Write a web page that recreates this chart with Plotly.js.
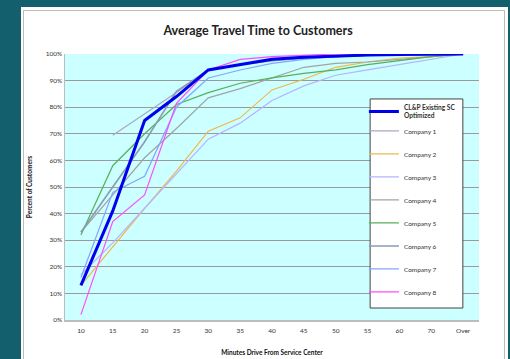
<!DOCTYPE html>
<html>
<head>
<meta charset="utf-8">
<script src="https://cdn.plot.ly/plotly-3.0.1.min.js"></script>
<style>
  html, body { margin: 0; padding: 0; width: 510px; height: 359px; overflow: hidden; background: #145f6d; }
  #frame { position: absolute; left: 21px; top: 7px; width: 487px; height: 360px; background: #ffffff; }
  #inner { position: absolute; left: 23px; top: 10px; width: 482px; height: 360px; border: 1px solid #bdbdbd; box-sizing: border-box; }
  #chart { position: absolute; left: 0; top: 0; width: 510px; height: 359px; }
</style>
</head>
<body>
<div id="frame"></div>
<div id="inner"></div>
<div id="chart"></div>
<script>
const categories = ['10','15','20','25','30','35','40','45','50','55','60','70','Over'];
const yTicks = [0,10,20,30,40,50,60,70,80,90,100];
const yTickLabels = ['0%','10%','20%','30%','40%','50%','60%','70%','80%','90%','100%'];

const clp      = [13, 41, 75, 84, 94, 96, 98, 98.8, 99.3, 99.6, 99.8, 100, 100];
const company1 = [null, 69.5, 77.5, 85.5, 94, 96, 97.5, 98.5, 99, 99.5, 100, 100, 100];
const company2 = [13, 27.5, 42, 56, 71, 76, 86.5, 90.5, 95, 97, 98.5, 99, 100];
const company3 = [17, 29, 42, 55, 68, 74, 82.5, 88, 92, 94, 96, 98, 100];
const company4 = [33, 47, 61, 72, 83.5, 87, 91, 95, 96.5, 97, 98, 99, 100];
const company5 = [32, 58, 70, 81, 85.5, 89, 91, 92.7, 94, 96, 97.5, 99, 100];
const company6 = [33, 50, 67, 86, 94, 96, 97.5, 98.5, 99, 99.5, 100, 100, 100];
const company7 = [16, 48, 54, 80, 91, 94, 96.5, 98, 99, 99.5, 100, 100, 100];
const company8 = [2, 37, 47, 81.5, 94, 98, 99, 99.5, 100, 100, 100, 100, 100];

const series = [
  {name: 'Company 1', y: company1, color: '#a8a8c6', width: 1.2},
  {name: 'Company 2', y: company2, color: '#f4b64a', width: 1.2},
  {name: 'Company 3', y: company3, color: '#b4b4ff', width: 1.2},
  {name: 'Company 4', y: company4, color: '#a3a3a3', width: 1.2},
  {name: 'Company 5', y: company5, color: '#56b156', width: 1.2},
  {name: 'Company 6', y: company6, color: '#8a9bb3', width: 1.6},
  {name: 'Company 7', y: company7, color: '#86a2ff', width: 1.2},
  {name: 'Company 8', y: company8, color: '#ff4cff', width: 1.2}
];

const traces = series.map((s, i) => ({
  type: 'scatter', mode: 'lines', x: categories, y: s.y, name: s.name,
  line: {color: s.color, width: s.width}, legendgroup: 'g' + (i + 1), legendrank: i + 2,
  connectgaps: false, hoverinfo: 'skip'
}));
traces.push({
  type: 'scatter', mode: 'lines', x: categories, y: clp,
  name: '<b><span style="font-size:6.6px">CL&amp;P Existing SC<br>Optimized</span></b>',
  line: {color: '#0000ee', width: 3}, legendgroup: 'g1', legendrank: 1, hoverinfo: 'skip'
});

const font = 'Lato, "Open Sans", sans-serif';
const layout = {
  width: 510, height: 359,
  margin: {l: 65, r: 31, t: 54, b: 39},
  paper_bgcolor: 'rgba(0,0,0,0)',
  plot_bgcolor: '#ccffff',
  font: {family: font, size: 6.5, color: '#333333'},
  title: {text: '<b>Average Travel Time to Customers</b>', font: {family: font, size: 12.5, color: '#222222'},
          x: 0.506, xref: 'container', y: 0.914, yref: 'container', xanchor: 'center', yanchor: 'middle'},
  xaxis: {
    type: 'category', range: [-0.5, categories.length - 0.5], showgrid: false,
    showline: true, linecolor: '#bdbdbd', linewidth: 1.5, ticks: '', zeroline: false,
    ticklabelstandoff: 4,
    tickfont: {family: font, size: 6.5, color: '#333333'},
    title: {text: '<b>Minutes Drive From Service Center</b>', font: {family: font, size: 6.5, color: '#111111'}, standoff: 17}
  },
  yaxis: {
    range: [0, 100], tickmode: 'array', tickvals: yTicks, ticktext: yTickLabels,
    showgrid: true, gridcolor: '#9a9a9a', gridwidth: 1,
    showline: true, linecolor: '#bdbdbd', linewidth: 1.5, ticks: '', zeroline: false,
    tickfont: {family: font, size: 6.5, color: '#333333'},
    title: {text: '<b>Percent of Customers</b>', font: {family: font, size: 6.5, color: '#111111'}, standoff: 12}
  },
  showlegend: true,
  legend: {
    x: 0.722, y: 0.840, xanchor: 'left', yanchor: 'top',
    bgcolor: 'rgba(0,0,0,0)', borderwidth: 0, tracegroupgap: 4,
    font: {family: font, size: 6.5, color: '#333333'}
  },
  shapes: [
    {type: 'line', xref: 'x', yref: 'paper', x0: categories[4], x1: categories[4], y0: 0, y1: 1,
     line: {color: '#8a96b8', width: 1, dash: 'dot'}, layer: 'below'},
    {type: 'line', xref: 'x', yref: 'paper', x0: categories[7], x1: categories[7], y0: 0, y1: 1,
     line: {color: '#8a96b8', width: 1, dash: 'dot'}, layer: 'below'},
    {type: 'rect', xref: 'paper', yref: 'paper', x0: 0.737, x1: 0.961, y0: 0.045, y1: 0.831,
     fillcolor: '#ffffff', line: {color: '#444444', width: 1}, layer: 'above'}
  ]
};

Plotly.newPlot('chart', traces, layout, {displayModeBar: false, staticPlot: true});
</script>
</body>
</html>
